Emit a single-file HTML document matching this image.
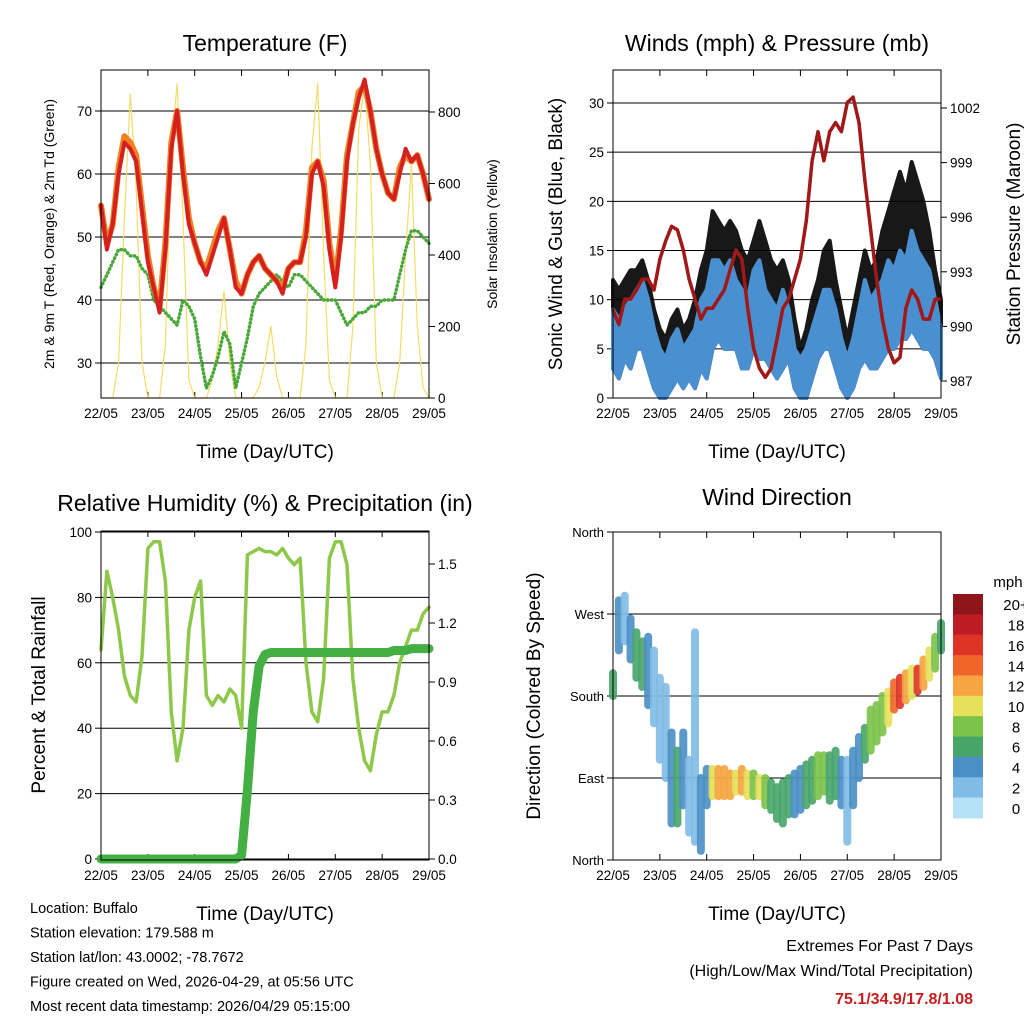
<!DOCTYPE html>
<html><head><meta charset="utf-8"><style>
body{margin:0;background:#fff}
svg{display:block;font-family:"Liberation Sans",sans-serif}
</style></head><body>
<svg id="c" width="1024" height="1024" xmlns="http://www.w3.org/2000/svg"></svg>
<script>
// ---- data (3-hourly from 22/05 00 UTC to 29/05 00 UTC) ----
const dayLabels=["22/05","23/05","24/05","25/05","26/05","27/05","28/05","29/05"];
const temp2m=[55,48,52,60,65,64,62,54,46,42,38,48,64,70,60,52,49,46,44,47,50,53,48,42,41,44,46,47,45,44,43,41,45,46,46,50,60,62,58,48,42,50,62,68,72,75,70,64,60,57,56,60,64,62,63,60,56];
const temp9m=[55,49,52,61,66,65,63,55,47,42,39,49,65,70,61,53,49,46,45,48,51,53,48,43,41,44,46,47,45,44,43,42,45,46,46,51,61,62,59,49,43,51,63,68,73,74,70,64,60,57,56,61,63,62,63,60,56];
const dewpt=[42,44,46,48,48,47,47,45,44,40,39,38,37,36,40,39,37,31,26,28,31,35,33,26,30,34,39,41,42,43,44,43,42,44,44,43,42,41,40,40,40,38,36,37,38,38,39,39,40,40,40,44,48,51,51,50,49];
const solar=[0,0,0,100,500,850,600,100, 0,0,0,150,700,880,500,50, 0,0,0,50,150,300,100,0, 0,0,0,30,100,200,60,0, 0,0,0,150,700,880,400,50, 0,0,0,200,750,880,650,100, 0,0,0,100,400,650,200,30, 0];
const pressure=[990.9,990.1,991.5,991.5,992.0,992.6,992.6,992.0, 993.7,994.7,995.5,995.3,994.2,992.6,991.5,990.4, 991.0,991.0,991.5,992.0,993.1,994.2,993.7,991.0, 988.8,987.7,987.2,987.7,989.3,991.0,991.5,992.6, 993.7,995.8,999.1,1000.7,999.1,1000.7,1001.2,1000.7, 1002.3,1002.6,1001.2,998.0,995.3,992.6,990.4,988.8, 988.0,988.3,991.0,992.0,991.5,990.4,990.4,991.5, 991.5];
const windLo=[3,2,4,3,5,5,3,1, 0,0,1,2,1,2,1,3, 2,5,6,5,5,5,3,3, 5,4,4,3,2,3,4,1, 0,0,2,4,5,5,3,1, 0,1,3,4,3,3,4,5, 5,6,6,7,6,5,5,4, 2];
const windHi=[9,8,9,10,11,12,10,7, 5,4,6,7,5,6,7,10, 11,14,14,13,14,12,11,10, 13,14,11,10,9,11,9,5, 4,5,7,9,11,11,9,6, 4,6,9,12,10,11,12,14, 13,15,14,17,15,14,13,10, 7];
const gustHi=[12,11,12,13,13,14,12,9, 7,6,8,9,7,8,10,13, 15,19,18,17,18,17,15,14, 16,18,16,14,13,14,12,8, 5,7,10,12,15,16,12,9, 6,9,12,15,13,14,17,19, 21,23,21,24,22,20,17,13, 10];
const rh=[64,88,80,70,56,50,48,62, 95,97,97,85,45,30,40,70, 80,85,50,47,50,48,52,50, 40,93,94,95,94,94,93,95, 92,90,92,60,45,42,55,92, 97,97,90,55,40,30,27,38, 45,45,50,60,65,70,70,75, 77];
const precip=[0,0,0,0,0,0,0,0, 0,0,0,0,0,0,0,0, 0,0,0,0,0,0,0,0, 0.02,0.35,0.75,0.98,1.04,1.05,1.05,1.05, 1.05,1.05,1.05,1.05,1.05,1.05,1.05,1.05, 1.05,1.05,1.05,1.05,1.05,1.05,1.05,1.05, 1.05,1.05,1.06,1.06,1.06,1.07,1.07,1.07, 1.07];
const dirLo=[180,230,240,220,200,190,170,150, 110,90,40,40,60,30,20,10, 60,70,70,70,70,75,75,70, 70,70,60,55,45,40,50,50, 55,60,65,70,75,65,70,60, 20,60,90,110,120,130,140,150, 165,170,175,180,185,190,200,210, 230];
const dirHi=[205,285,290,265,250,240,245,230, 200,190,140,120,140,110,250,90, 100,100,100,100,95,95,100,95, 95,90,90,85,80,85,90,95, 100,105,110,115,115,115,120,110, 110,120,135,145,165,170,180,185, 195,200,205,210,210,220,230,245, 260];
const dirSpd=[6,4,3,5,7,7,4,2, 2,2,4,6,4,3,3,4, 5,10,13,12,13,11,12,10, 9,11,8,7,7,6,7,5, 5,6,7,8,9,7,6,4, 3,4,5,6,8,8,9,10, 14,16,12,11,16,13,10,9, 6];
const tempTicks=[30,40,50,60,70];
const solarTicks=[0,200,400,600,800];
const windTicks=[0,5,10,15,20,25,30];
const presTicks=[987,990,993,996,999,1002];
const rhTicks=[0,20,40,60,80,100];
const rainTicks=[0.0,0.3,0.6,0.9,1.2,1.5];
const dirTicks=[0,90,180,270,360];
const dirNames=["North","East","South","West","North"];
const cbLabels=["20+","18","16","14","12","10","8","6","4","2","0"];
const cbColors=["#8e1519","#bd1c24","#dd3427","#f0652a","#f6a540","#e6e05a","#7cc34a","#48a56a","#4a8fc6","#80bce6","#b5e2f7"];

const svg=document.getElementById('c');
const NS="http://www.w3.org/2000/svg";
function mk(tag,attrs,parent,text){const e=document.createElementNS(NS,tag);for(const k in attrs)e.setAttribute(k,attrs[k]);if(text!==undefined)e.textContent=text;(parent||svg).appendChild(e);return e;}
function scale(d0,d1,r0,r1){return v=>r0+(v-d0)*(r1-r0)/(d1-d0);}
function tday(i){return i/8;}

function panel(name){
  const g=mk('g',{});
  
  
  return g;
}
function frame(g,x0,x1,y0,y1){
  const r=mk('rect',{x:x0,y:y0,width:x1-x0,height:y1-y0,fill:'none',stroke:'#000','stroke-width':1},g);
  
  
}
function xAxis(g,x0,x1,y0,y1){
  const X=scale(0,7,x0,x1);
  dayLabels.forEach((l,i)=>{
    const x=X(i);
    mk('line',{x1:x,x2:x,y1:y1,y2:y1-6,stroke:'#000'},g);
    mk('line',{x1:x,x2:x,y1:y0,y2:y0+6,stroke:'#000'},g);
    const t=mk('text',{x:x,y:y1+20,'font-size':13.5,'text-anchor':'middle'},g,l);
    
    
  });
  const t=mk('text',{x:(x0+x1)/2,y:y1+60,'font-size':19,'text-anchor':'middle'},g,'Time (Day/UTC)');
  
  
  return X;
}
function yTicks(g,ticks,labels,Y,x0,x1,side,grid,fs){
  ticks.forEach((v,i)=>{
    const y=Y(v);
    if(grid) mk('line',{x1:x0,x2:x1,y1:y,y2:y,stroke:'#000','stroke-width':1},g);
    if(side==='l'){mk('line',{x1:x0-6,x2:x0,y1:y,y2:y,stroke:'#000'},g);
      const t=mk('text',{x:x0-9,y:y+5,'font-size':fs||13.5,'text-anchor':'end'},g,labels[i]);
      }
    else {mk('line',{x1:x1,x2:x1+6,y1:y,y2:y,stroke:'#000'},g);
      const t=mk('text',{x:x1+9,y:y+5,'font-size':fs||13.5,'text-anchor':'start'},g,labels[i]);
      }
  });
}
function vtitle(g,x,y,txt,fs,name){
  const t=mk('text',{x:x,y:y,'font-size':fs,'text-anchor':'middle',transform:`rotate(-90 ${x} ${y})`},g,txt);
  
}
function title(g,x,y,txt){
  const t=mk('text',{x:x,y:y,'font-size':23,'text-anchor':'middle'},g,txt);
  
}
function line(g,arr,X,Y,col,w,name,extra){
  const d=arr.map((v,i)=>(i?'L':'M')+X(tday(i)).toFixed(1)+','+Y(v).toFixed(1)).join('');
  const p=mk('path',Object.assign({d:d,fill:'none',stroke:col,'stroke-width':w,'stroke-linejoin':'round','stroke-linecap':'round'},extra||{}),g);
  
  return p;
}
function band(g,lo,hi,X,Y,col,name,op){
  let d='';
  for(let i=0;i<lo.length;i++) d+=(i?'L':'M')+X(tday(i)).toFixed(1)+','+Y(hi[i]).toFixed(1);
  for(let i=lo.length-1;i>=0;i--) d+='L'+X(tday(i)).toFixed(1)+','+Y(lo[i]).toFixed(1);
  d+='Z';
  const p=mk('path',{d:d,fill:col,stroke:col,'stroke-width':4,'stroke-linejoin':'round',opacity:op||1},g);
  
}

// ---- Panel 1: Temperature ----
(function(){
  const x0=101,x1=429,y0=70,y1=398;
  const g=panel('temperature-panel');
  const Y=scale(30,70,363,111), YR=scale(0,800,398,112);
  const X=xAxis(g,x0,x1,y0,y1);
  yTicks(g,tempTicks,tempTicks.map(String),Y,x0,x1,'l',true);
  yTicks(g,solarTicks,solarTicks.map(String),YR,x0,x1,'r',false);
  line(g,solar,X,YR,'#f5dc68',1.2,'solar-insolation-line');
  line(g,dewpt,X,Y,'#4aa83a',3.5,'dewpoint-line',{'stroke-dasharray':'0.5 3.5'});
  line(g,temp9m,X,Y,'#f08020',6,'temp-9m-line');
  line(g,temp2m,X,Y,'#d42020',4,'temp-2m-line');
  frame(g,x0,x1,y0,y1);
  title(g,265,51,'Temperature (F)');
  vtitle(g,54,234,'2m & 9m T (Red, Orange) & 2m Td (Green)',14,'y-axis-title');
  vtitle(g,497,234,'Solar Insolation (Yellow)',14,'y2-axis-title');
})();

// ---- Panel 2: Winds & Pressure ----
(function(){
  const x0=613,x1=941,y0=70,y1=398;
  const g=panel('winds-panel');
  const Y=scale(0,30,398,103), YR=scale(987,1002,381,108);
  const X=xAxis(g,x0,x1,y0,y1);
  yTicks(g,windTicks,windTicks.map(String),Y,x0,x1,'l',true);
  yTicks(g,presTicks,presTicks.map(String),YR,x0,x1,'r',false);
  band(g,windLo,gustHi,X,Y,'#000','gust-band',0.9);
  band(g,windLo,windHi,X,Y,'#4a90d0','wind-band');
  line(g,pressure,X,YR,'#a01818',3.5,'pressure-line');
  frame(g,x0,x1,y0,y1);
  title(g,777,51,'Winds (mph) & Pressure (mb)');
  vtitle(g,562,234,'Sonic Wind & Gust (Blue, Black)',19,'y-axis-title');
  vtitle(g,1020,234,'Station Pressure (Maroon)',19,'y2-axis-title');
})();

// ---- Panel 3: RH & Precip ----
(function(){
  const x0=101,x1=429,y0=531,y1=860;
  const g=panel('humidity-panel');
  const Y=scale(0,100,859,532), YR=scale(0,1.5,859,564);
  const X=xAxis(g,x0,x1,y0,y1);
  yTicks(g,rhTicks,rhTicks.map(String),Y,x0,x1,'l',true);
  yTicks(g,rainTicks,rainTicks.map(v=>v.toFixed(1)),YR,x0,x1,'r',false);
  line(g,rh,X,Y,'#8ec84a',3.5,'humidity-line');
  line(g,precip,X,YR,'#44b044',9,'precip-line');
  frame(g,x0,x1,y0,y1);
  title(g,265,511,'Relative Humidity (%) & Precipitation (in)');
  vtitle(g,45,695,'Percent & Total Rainfall',19,'y-axis-title');
})();

// ---- Panel 4: Wind Direction ----
(function(){
  const x0=613,x1=941,y0=532,y1=860;
  const g=panel('wind-direction-panel');
  const Y=scale(0,360,860,532);
  const X=xAxis(g,x0,x1,y0,y1);
  yTicks(g,dirTicks,dirNames,Y,x0,x1,'l',true,13);
  for(let i=0;i<dirLo.length;i++){
    const b=Math.min(10,Math.floor(dirSpd[i]/2));
    const x=X(tday(i));
    const s=mk('line',{x1:x,x2:x,y1:Y(dirLo[i]),y2:Y(dirHi[i]),stroke:cbColors[10-b],'stroke-width':8,'stroke-linecap':'round',opacity:0.9},g);
    
    
  }
  frame(g,x0,x1,y0,y1);
  title(g,777,505,'Wind Direction');
  vtitle(g,540,696,'Direction (Colored By Speed)',19,'y-axis-title');
  const cb=mk('g',{},svg);
  
  
  const h=(818-594)/cbColors.length;
  cbColors.forEach((c,i)=>{
    mk('rect',{x:953,y:594+i*h,width:30,height:h+0.5,fill:c},cb);
    const t=mk('text',{x:1016,y:594+i*h+h/2+6,'font-size':15,'text-anchor':'middle'},cb,cbLabels[i]);
    
  });
  const u=mk('text',{x:1008,y:587,'font-size':15,'text-anchor':'middle'},cb,'mph');
  
})();

// ---- Footer ----
const info=["Location: Buffalo","Station elevation: 179.588 m","Station lat/lon: 43.0002; -78.7672","Figure created on Wed, 2026-04-29, at 05:56 UTC","Most recent data timestamp: 2026/04/29 05:15:00"];
info.forEach((s,i)=>{const t=mk('text',{x:30,y:913+i*24.5,'font-size':14.5},svg,s);
  });
let t=mk('text',{x:973,y:951,'font-size':16,'text-anchor':'end'},svg,'Extremes For Past 7 Days');

t=mk('text',{x:973,y:976,'font-size':16,'text-anchor':'end'},svg,'(High/Low/Max Wind/Total Precipitation)');

t=mk('text',{x:973,y:1004,'font-size':16,'font-weight':'bold','text-anchor':'end',fill:'#c81e1e'},svg,'75.1/34.9/17.8/1.08');

</script>
</body></html>
